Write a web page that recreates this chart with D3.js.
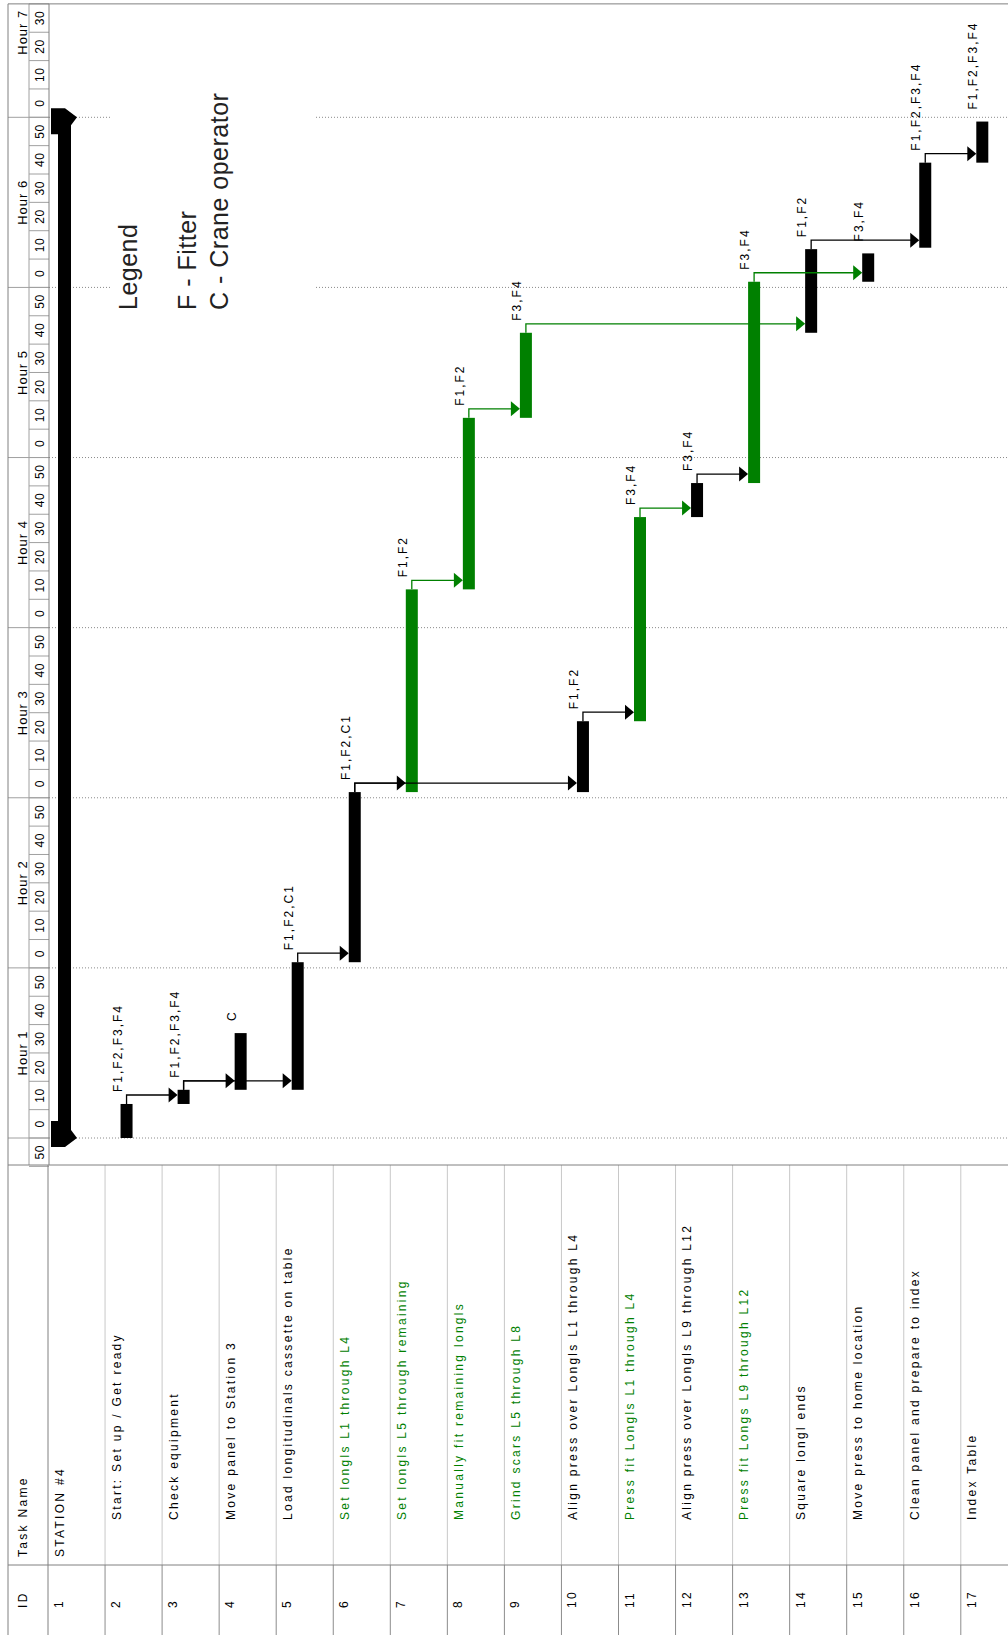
<!DOCTYPE html>
<html><head><meta charset="utf-8">
<script src="https://cdn.jsdelivr.net/npm/d3@7"></script>
<style>
html,body{margin:0;padding:0;background:#fff;}
svg{display:block;font-family:"Liberation Sans",Arial,sans-serif;}
</style></head><body>
<svg id="chart" width="1008" height="1635"></svg>
<script>
// ---------------- DATA ----------------
const ids = [1,2,3,4,5,6,7,8,9,10,11,12,13,14,15,16,17];
const taskNames = [
  "STATION #4",
  "Start: Set up / Get ready",
  "Check equipment",
  "Move panel to Station 3",
  "Load longitudinals cassette on table",
  "Set longls L1 through L4",
  "Set longls L5 through remaining",
  "Manually fit remaining longls",
  "Grind scars L5 through L8",
  "Align press over Longls L1 through L4",
  "Press fit Longls L1 through L4",
  "Align press over Longls L9 through L12",
  "Press fit Longs L9 through L12",
  "Square longl ends",
  "Move press to home location",
  "Clean panel and prepare to index",
  "Index Table"
];
// start / finish in minutes from the start of Hour 1
const startMin  = [0,   0, 12, 17, 17, 62, 122, 193.5, 254, 122, 147, 219, 231, 284, 302, 314, 344];
const finishMin = [360, 12, 17, 37, 62, 122, 193.5, 254, 284, 147, 219, 231, 302, 313.5, 312, 344, 358.5];
const resources = ["", "F1,F2,F3,F4", "F1,F2,F3,F4", "C", "F1,F2,C1", "F1,F2,C1", "F1,F2", "F1,F2",
  "F3,F4", "F1,F2", "F3,F4", "F3,F4", "F3,F4", "F1,F2", "F3,F4", "F1,F2,F3,F4", "F1,F2,F3,F4"];
const summaryTasks = [1];
const greenNameTasks = [6,7,8,9,11,13];
const greenBarTasks = [7,8,9,11,13];
const links = [[2,3],[3,4],[3,5],[5,6],[6,7],[6,10],[7,8],[8,9],[10,11],[11,12],[12,13],[9,14],[13,15],[14,16],[16,17]];
const hourLabels = ["", "Hour 1", "Hour 2", "Hour 3", "Hour 4", "Hour 5", "Hour 6", "Hour 7"];
const minuteTicks = d3.range(-10, 400, 10);
const legendLines = ["Legend", "F - Fitter", "C - Crane operator"];

// ---------------- LAYOUT ----------------
const GREEN = "#008000";
const svg = d3.select("#chart");
const y = d3.scaleLinear().domain([0, 360]).range([1138, 117.3]);
const yTop = y(400), yTable = 1165, yIdSep = 1565, H = 1635, W = 1008;
const x = d3.scaleBand().domain(ids).range([48, 48 + 17 * 57.05]);
const byId = id => ids.indexOf(id);
const isGreenBar = id => greenBarTasks.includes(id);

const rot = (sel, fx, fy) => sel.attr("transform", (d,i) => `translate(${fx(d,i)},${fy(d,i)}) rotate(-90)`);

// gridlines (hour boundaries)
svg.append("g").selectAll("line").data(d3.range(0, 7)).join("line")
  .attr("x1", 49).attr("x2", W)
  .attr("y1", h => y(h * 60)).attr("y2", h => y(h * 60))
  .attr("stroke", "#8a8a8a").attr("stroke-width", 1).attr("stroke-dasharray", "1,2");

// legend box
svg.append("rect").attr("x", 112).attr("y", 30).attr("width", 203).attr("height", 310).attr("fill", "#fff");
const legendX = [136.5, 196, 227.5];
svg.append("g").selectAll("text").data(legendLines).join("text")
  .call(rot, (d,i) => legendX[i], () => 310)
  .attr("font-size", 25).attr("fill", "#222").style("letter-spacing", "0.5px")
  .text(d => d);

// ---------------- TIME HEADER ----------------
const hdr = svg.append("g");
hdr.selectAll("line.m").data(minuteTicks.concat([400])).join("line")
  .attr("x1", 29).attr("x2", 49)
  .attr("y1", t => y(t)).attr("y2", t => y(t))
  .attr("stroke", "#a0a0a0");
hdr.selectAll("line.h").data(d3.range(0, 7)).join("line")
  .attr("x1", 8).attr("x2", 49)
  .attr("y1", h => y(h * 60)).attr("y2", h => y(h * 60))
  .attr("stroke", "#a0a0a0");
hdr.append("line").attr("x1", 29).attr("x2", 29).attr("y1", yTop).attr("y2", yTable).attr("stroke", "#a0a0a0");
hdr.append("line").attr("x1", 49).attr("x2", 49).attr("y1", yTop).attr("y2", yTable).attr("stroke", "#808080");
hdr.selectAll("text.m").data(minuteTicks).join("text")
  .call(rot, () => 43.5, t => y(t + 5))
  .attr("text-anchor", "middle").attr("font-size", 12).attr("fill", "#000")
  .style("letter-spacing", "0.6px")
  .text(t => ((t % 60) + 60) % 60);
hdr.selectAll("text.h").data(hourLabels.map((l, i) => ({l, i})).filter(d => d.l)).join("text")
  .call(rot, () => 26.5, d => y((d.i - 1) * 60 + 30))
  .attr("text-anchor", "middle").attr("font-size", 13).attr("fill", "#000")
  .style("letter-spacing", "1px")
  .text(d => d.l);

// ---------------- TABLE ----------------
const tbl = svg.append("g");
tbl.selectAll("line.r1").data(ids.slice(1)).join("line")
  .attr("x1", id => x(id)).attr("x2", id => x(id))
  .attr("y1", yTable).attr("y2", yIdSep).attr("stroke", "#c8c8c8");
tbl.selectAll("line.r2").data(ids.slice(1)).join("line")
  .attr("x1", id => x(id)).attr("x2", id => x(id))
  .attr("y1", yIdSep).attr("y2", H).attr("stroke", "#8c8c8c");
tbl.append("line").attr("x1", 48).attr("x2", 48).attr("y1", yTable).attr("y2", H).attr("stroke", "#808080");
tbl.append("line").attr("x1", 8).attr("x2", 8).attr("y1", yTop).attr("y2", H).attr("stroke", "#808080");
tbl.append("line").attr("x1", 8).attr("x2", W).attr("y1", yTop).attr("y2", yTop).attr("stroke", "#808080");
tbl.append("line").attr("x1", 8).attr("x2", W).attr("y1", yTable).attr("y2", yTable).attr("stroke", "#808080");
tbl.append("line").attr("x1", 8).attr("x2", W).attr("y1", yIdSep).attr("y2", yIdSep).attr("stroke", "#808080");

const txtStyle = sel => sel.attr("font-size", 12).style("letter-spacing", "2.3px");
tbl.append("text").call(rot, () => 27, () => 1557).call(txtStyle).attr("fill", "#000").text("Task Name");
tbl.append("text").call(rot, () => 27, () => 1608).call(txtStyle).attr("fill", "#000").text("ID");
tbl.selectAll("text.id").data(ids).join("text")
  .call(rot, id => x(id) + 15, () => 1608).call(txtStyle).attr("fill", "#000")
  .text(id => id);
tbl.selectAll("text.name").data(ids).join("text")
  .call(rot, id => x(id) + 15.5, id => summaryTasks.includes(id) ? 1557 : 1520)
  .call(txtStyle)
  .attr("fill", id => greenNameTasks.includes(id) ? GREEN : "#000")
  .text(id => taskNames[byId(id)]);

// ---------------- BARS ----------------
const bars = svg.append("g");
summaryTasks.forEach(id => {
  const L = x(id), ys = y(startMin[byId(id)]), yf = y(finishMin[byId(id)]);
  bars.append("rect").attr("x", L + 10).attr("width", 13).attr("y", yf).attr("height", ys - yf).attr("fill", "#000");
  const capF = [[3,-9],[17,-9],[29,0],[23,8],[23,17],[3,17]].map(([dx,dy]) => [L+dx, yf+dy]);
  const capS = [[3,9],[17,9],[29,0],[23,-8],[23,-17],[3,-17]].map(([dx,dy]) => [L+dx, ys+dy]);
  bars.append("polygon").attr("points", capF.join(" ")).attr("fill", "#000");
  bars.append("polygon").attr("points", capS.join(" ")).attr("fill", "#000");
});
const normal = ids.filter(id => !summaryTasks.includes(id));
bars.selectAll("rect.task").data(normal).join("rect")
  .attr("x", id => x(id) + 15.5).attr("width", 12)
  .attr("y", id => y(finishMin[byId(id)]))
  .attr("height", id => y(startMin[byId(id)]) - y(finishMin[byId(id)]))
  .attr("fill", id => isGreenBar(id) ? GREEN : "#000");
bars.selectAll("text.res").data(normal).join("text")
  .call(rot, id => x(id) + 16.5, id => y(finishMin[byId(id)]) - 12)
  .attr("font-size", 12).style("letter-spacing", "2px").attr("fill", "#000")
  .text(id => resources[byId(id)]);

// ---------------- LINKS ----------------
const lk = svg.append("g");
links.forEach(([a, b]) => {
  const col = isGreenBar(a) ? GREEN : "#000";
  const xs = x(a) + 21.5, yf = y(finishMin[byId(a)]), yl = yf - 9;
  const tip = x(b) + 15.5;
  lk.append("path").attr("d", `M${xs},${yf}V${yl}H${tip - 8}`)
    .attr("fill", "none").attr("stroke", col).attr("stroke-width", 1.3);
  lk.append("polygon").attr("points", [[tip - 9, yl - 7.5], [tip, yl], [tip - 9, yl + 7.5]].join(" "))
    .attr("fill", col);
});
</script>
</body></html>
